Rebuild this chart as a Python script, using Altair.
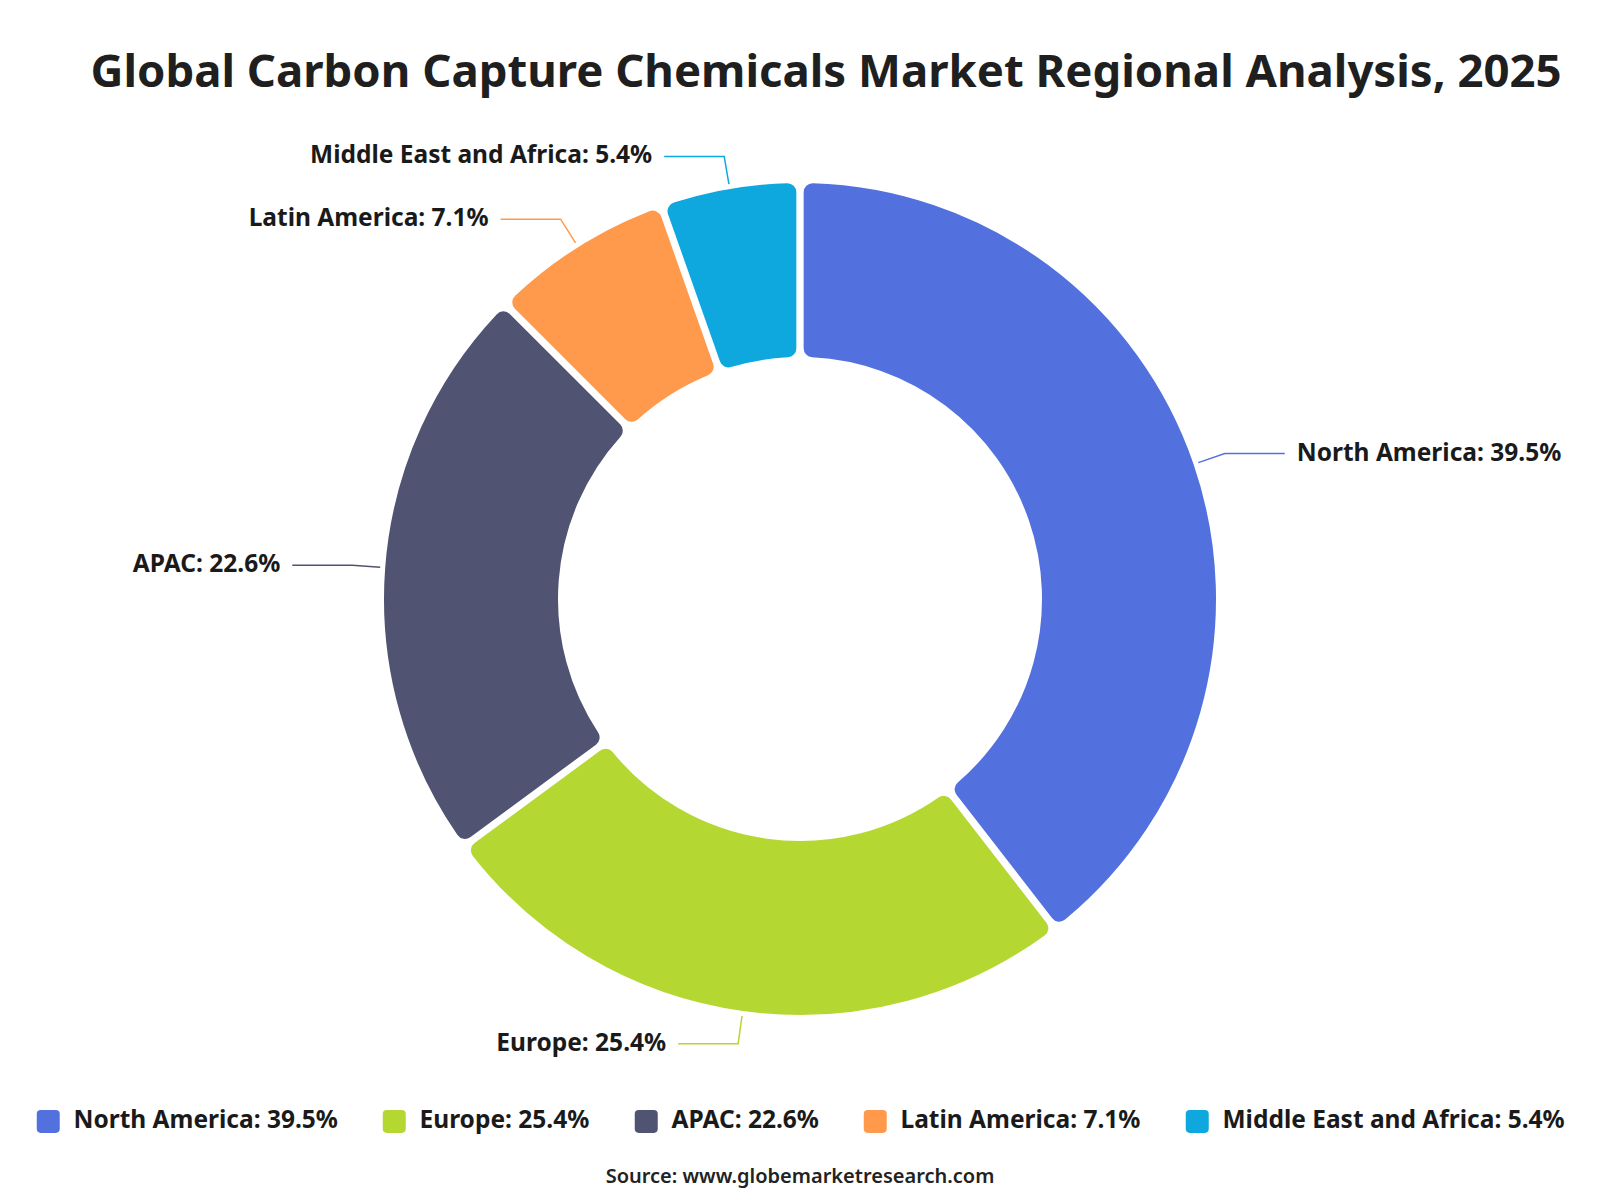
import math
import altair as alt
import pandas as pd

# ---- data ----
regions = ["North America", "Europe", "APAC", "Latin America", "Middle East and Africa"]
shares = [39.5, 25.4, 22.6, 7.1, 5.4]
colors = ["#5271DF", "#B5D732", "#505371", "#FF9A4D", "#0EA8DF"]
title_text = "Global Carbon Capture Chemicals Market Regional Analysis, 2025"
source_text = "Source: www.globemarketresearch.com"

# ---- layout constants ----
W, H = 1600, 1200
CX, CY = 800, 599
R_OUT, R_IN = 417, 241
R_LINE0, R_ELBOW = 421, 449
HLEN, TGAP = 60, 12
FONT = "Noto Sans"
LBL_SIZE = 24.5

labels = [f"{r}: {s}%" for r, s in zip(regions, shares)]
df = pd.DataFrame({"region": regions, "share": shares, "label": labels,
                   "order": list(range(len(regions)))})

total = sum(shares)
cum = 0.0
line_rows, text_rows = [], []
for reg, s, lab in zip(regions, shares, labels):
    mid = (cum + s / 2) / total
    cum += s
    a = mid * 2 * math.pi
    sx, sy = math.sin(a), -math.cos(a)
    side = 1 if sx >= 0 else -1
    p0 = (CX + R_LINE0 * sx, CY + R_LINE0 * sy)
    p1 = (CX + R_ELBOW * sx, CY + R_ELBOW * sy)
    p2 = (p1[0] + side * HLEN, p1[1])
    for i, p in enumerate([p0, p1, p2]):
        line_rows.append({"label": lab, "i": i, "px": p[0], "py": p[1]})
    text_rows.append({"label": lab, "tx": p2[0] + side * TGAP, "ty": p2[1],
                      "align": "left" if side > 0 else "right"})
lines_df = pd.DataFrame(line_rows)
text_df = pd.DataFrame(text_rows)

xs = alt.Scale(domain=[0, W], range=[0, W])
ys = alt.Scale(domain=[0, H], range=[0, H])
color_scale = alt.Scale(domain=labels, range=colors)

rounded_sq = ("M -1 -0.65 Q -1 -1 -0.65 -1 L 0.65 -1 Q 1 -1 1 -0.65 L 1 0.65 "
              "Q 1 1 0.65 1 L -0.65 1 Q -1 1 -1 0.65 Z")

arcs = alt.Chart(df).mark_arc(
    outerRadius=R_OUT, innerRadius=R_IN, cornerRadius=10, padAngle=0.011,
    stroke="white", strokeWidth=2
).encode(
    x=alt.value(CX), y=alt.value(CY),
    theta=alt.Theta("share:Q", stack=True),
    order=alt.Order("order:Q"),
    color=alt.Color("label:N", scale=color_scale, sort=labels,
                    legend=alt.Legend(
                        title=None, orient="none", legendX=36, legendY=1109,
                        direction="horizontal", columns=5,
                        symbolType=rounded_sq, symbolSize=529,
                        symbolStrokeWidth=0, symbolOpacity=1,
                        labelFont=FONT, labelFontSize=LBL_SIZE, labelFontWeight="bold",
                        labelColor="#1a1a1a", labelOffset=13, columnPadding=44,
                        labelLimit=400)),
)

leader = alt.Chart(lines_df).mark_line(strokeWidth=1.5).encode(
    x=alt.X("px:Q", scale=xs, axis=None),
    y=alt.Y("py:Q", scale=ys, axis=None),
    detail="label:N",
    order="i:Q",
    color=alt.Color("label:N", scale=color_scale, legend=None),
)

text_left = alt.Chart(text_df[text_df["align"] == "left"]).mark_text(
    align="left", baseline="middle", font=FONT, fontSize=LBL_SIZE, fontWeight="bold",
    color="#1a1a1a"
).encode(x=alt.X("tx:Q", scale=xs, axis=None), y=alt.Y("ty:Q", scale=ys, axis=None),
         text="label:N")

text_right = alt.Chart(text_df[text_df["align"] == "right"]).mark_text(
    align="right", baseline="middle", font=FONT, fontSize=LBL_SIZE, fontWeight="bold",
    color="#1a1a1a"
).encode(x=alt.X("tx:Q", scale=xs, axis=None), y=alt.Y("ty:Q", scale=ys, axis=None),
         text="label:N")

title = alt.Chart(pd.DataFrame({"t": [title_text]})).mark_text(
    align="center", baseline="alphabetic", font=FONT, fontSize=45.5, fontWeight="bold",
    color="#1f1f1f"
).encode(x=alt.value(826), y=alt.value(87), text="t:N")

source = alt.Chart(pd.DataFrame({"t": [source_text]})).mark_text(
    align="center", baseline="middle", font=FONT, fontSize=20, fontWeight=600,
    color="#222222"
).encode(x=alt.value(800), y=alt.value(1177), text="t:N")

chart = alt.layer(arcs, leader, text_left, text_right, title, source).resolve_scale(
    x="shared", y="shared"
).properties(
    width=W, height=H, padding=0, autosize="none", background="white"
).configure_view(stroke=None)

chart.save("out.html", embed_options={"renderer": "svg", "actions": False})
